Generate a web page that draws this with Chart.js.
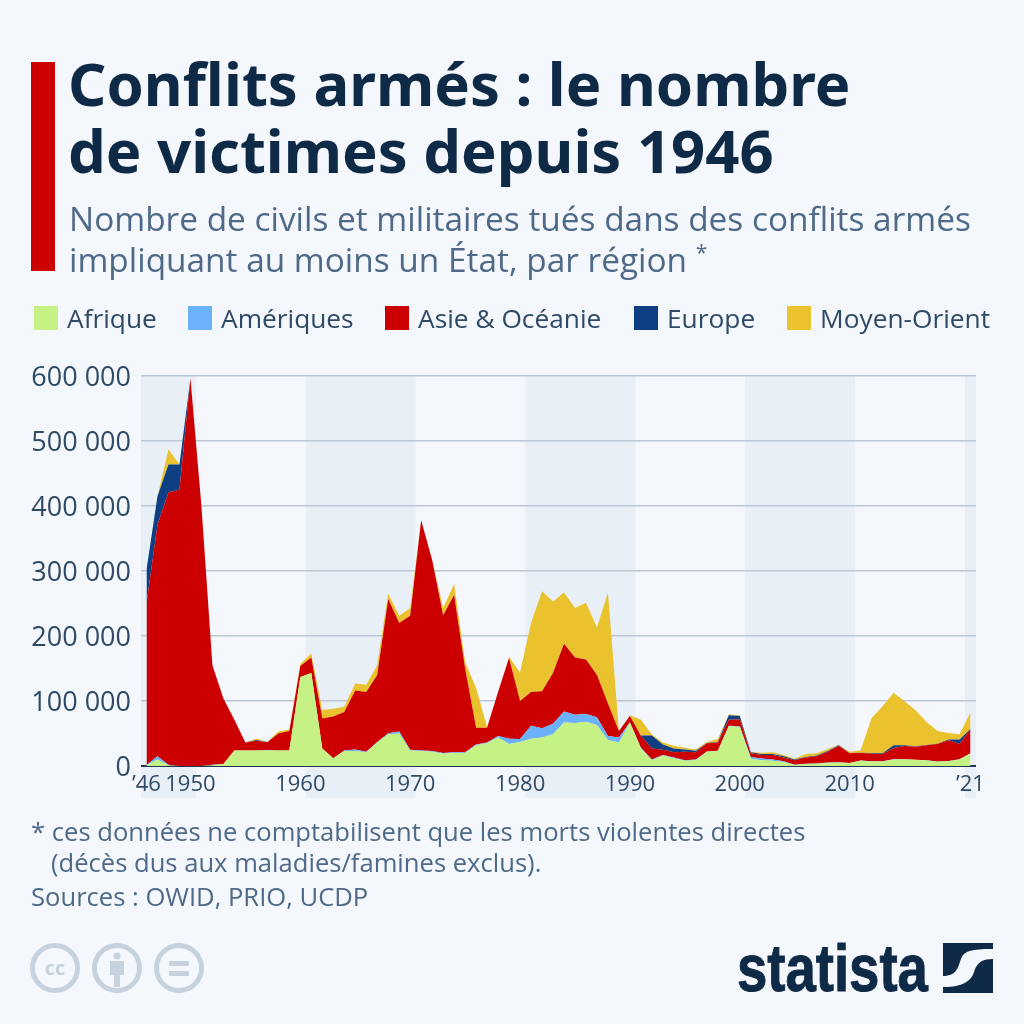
<!DOCTYPE html>
<html lang="fr">
<head>
<meta charset="UTF-8">
<title>Conflits armés</title>
<script src="https://cdn.jsdelivr.net/npm/chart.js"></script>
<style>
    html, body { margin: 0; padding: 0; background: #f4f7fb; }
    body { width: 1024px; height: 1024px; position: relative; overflow: hidden; font-family: "Open Sans", sans-serif; }
    canvas { position: absolute; left: 0; top: 0; }
    .abs { position: absolute; white-space: nowrap; }
    #barre { left: 31px; top: 62px; width: 24px; height: 209px; background: #cc0000; }
    #titre { left: 68px; top: 50px; font: 700 59.8px/67px "Noto Sans", sans-serif; color: #0f2a47; }
    #sous_titre { left: 69px; top: 198px; font: 400 33.4px/41px "Open Sans", sans-serif; color: #4f6a88; }
    #sous_titre sup { font-size: 21px; line-height: 0; }
    #legende { left: 0; top: 300px; height: 36px; font: 400 26.3px/36px "Open Sans", sans-serif; color: #2f4a66; }
    .item { position: absolute; top: 0; white-space: nowrap; }
    .item i { position: absolute; left: 0; top: 6px; width: 24px; height: 24px; }
    .item span { position: absolute; left: 33px; top: 0; }
    #note { left: 31px; top: 816px; font: 400 25.6px/31px "Open Sans", sans-serif; color: #4f6a88; }
    #sources { left: 31px; top: 881px; font: 400 25.6px/31px "Open Sans", sans-serif; color: #4f6a88; }
    #marque { left: 737px; top: 930px; font: 700 66px/76px "Liberation Sans Narrow", "Liberation Sans", sans-serif; color: #0f2a47; -webkit-text-stroke: 1px #0f2a47; transform: scaleX(0.826); transform-origin: left top; }
</style>
</head>
<body>
    <canvas id="grafico" width="1024" height="1024"></canvas>

    <div class="abs" id="barre"></div>
    <div class="abs" id="titre">Conflits armés : le nombre<br>de victimes depuis 1946</div>
    <div class="abs" id="sous_titre">Nombre de civils et militaires tués dans des conflits armés<br>impliquant au moins un État, par région <sup>*</sup></div>
    <div class="abs" id="legende"></div>
    <div class="abs" id="note">* ces données ne comptabilisent que les morts violentes directes<br>&nbsp;&nbsp;&nbsp;(décès dus aux maladies/famines exclus).</div>
    <div class="abs" id="sources">Sources : OWID, PRIO, UCDP</div>

    <svg class="abs" style="left:28px;top:941px" width="180" height="54" viewBox="0 0 180 54">
        <g fill="none" stroke="#c6d3de" stroke-width="5">
            <circle cx="27" cy="27" r="22.5"/>
            <circle cx="89" cy="27" r="22.5"/>
            <circle cx="151" cy="27" r="22.5"/>
        </g>
        <text x="27" y="34" text-anchor="middle" font-family="Open Sans" font-weight="700" font-size="20" fill="#c6d3de">cc</text>
        <circle cx="89" cy="15" r="3.5" fill="#c6d3de"/>
        <path d="M82 20h14v14h-4v12h-6V34h-4z" fill="#c6d3de"/>
        <path d="M141 20h20v5h-20zM141 30h20v5h-20z" fill="#c6d3de"/>
    </svg>

    <div class="abs" id="marque">statista</div>
    <svg class="abs" style="left:943px;top:943px" width="50" height="50" viewBox="0 0 50 50">
        <rect width="50" height="50" fill="#0f2a47"/>
        <path d="M0 33C14 33 15 24 18 16C21 8 28 6 50 6L50 16C38 16 34 20 31 29C28 38 20 44 0 44Z" fill="#f4f7fb"/>
    </svg>

<script>
    // valeurs en milliers de morts, 1946 -> 2021
    var annees = [];
    for (var a = 1946; a <= 2021; a++) annees.push(a);

    var afrique = [
        1, 10, 1, 0,
        0, 0, 1, 3, 24, 24, 24, 24, 24, 24,
        137, 143, 27, 12, 23, 23, 21, 36, 49, 50,
        24, 23, 22, 19, 20, 20, 32, 35, 44, 34,
        37, 42, 44, 49, 67, 66, 68, 63, 40, 36,
        67, 27, 9, 16, 12, 8, 9, 22, 23, 61,
        60, 11, 9, 8, 6, 1.5, 3, 3.5, 5, 5.5,
        4.5, 8, 7, 7, 10, 10, 9.5, 8.5, 6.5, 7.5,
        10, 19.5
    ];
    var ameriques = [
        0.5, 5, 1, 0,
        0, 0, 1, 0, 0, 0, 0, 0.5, 0, 0,
        0, 0, 0, 0, 1, 2.5, 1, 1, 1.5, 3,
        1, 1, 1, 1, 1, 1, 1, 1, 2, 8,
        4.5, 20, 14, 16, 17, 13, 12, 12, 6, 8,
        0.5, 1, 1, 1, 1, 1, 1, 0.5, 0.5, 1,
        1, 3, 2.5, 2, 1.5, 0.5, 0.5, 0.5, 0.3, 0.3,
        0.3, 0.3, 0.3, 0.3, 0.3, 0.3, 0.3, 0.3, 0.3, 0.3,
        0.3, 0.3
    ];
    var asie = [
        248.5, 356, 419, 425,
        596, 400, 153, 101, 47, 12, 15, 12, 26, 30,
        17, 24, 46, 64, 59, 90.5, 92, 103, 206.5, 167,
        206, 354, 294, 212, 242, 129, 26, 23, 68, 124,
        58.5, 52, 57, 78, 104, 88, 84, 65, 50, 10,
        9.5, 18, 17, 8, 8, 13, 11, 12.5, 12.5, 9,
        11, 5.5, 5.5, 7, 5.5, 7, 9.5, 11, 16.7, 25,
        14.7, 12, 11.7, 11, 17.5, 20.5, 20, 23, 27, 32,
        23.5, 37
    ];
    var europe = [
        52, 44, 43, 39,
        0, 0, 0, 0, 0, 0, 1, 0.5, 0, 0,
        0, 0, 0, 0, 0, 0, 0, 0, 0, 0,
        0, 0, 0, 0, 0, 0, 0, 0, 0, 0,
        0, 0, 0, 0, 0, 0, 0, 0, 0, 0,
        0, 1, 20, 8, 6, 3.5, 2.5, 0.5, 1, 7,
        5, 1.5, 1.5, 1.5, 2, 1, 1, 1, 1, 1,
        0.5, 0, 1, 1.5, 4, 1, 0.5, 0.5, 0.5, 1,
        7, 0.5
    ];
    var moyenOrient = [
        0, 0, 23, 0,
        0, 0, 0, 0, 0, 0, 2.5, 0, 3, 2,
        3, 6, 13, 12, 8, 11, 11, 15, 8, 11,
        12, 0, 0, 11, 17, 10, 61, 1, 0, 2,
        44, 106, 154, 110, 79, 76, 87, 73, 171, 0,
        1, 24, 1.5, 3, 4, 2.5, 2, 1.5, 4.5, 1.5,
        1, 1, 2, 2.5, 2, 1, 4.5, 3.5, 3, 1,
        2, 4, 54, 72, 81, 68, 55.5, 35.5, 19.5, 10,
        8, 25
    ];

    var noms = ['Afrique', 'Amériques', 'Asie & Océanie', 'Europe', 'Moyen-Orient'];
    var series = [afrique, ameriques, asie, europe, moyenOrient];
    var couleurs = ['#c6f285', '#6bb1fb', '#cc0000', '#0d3f82', '#e9c22e'];
    var posLegende = [34, 188, 385, 634, 787];

    var ticksX = [1946, 1950, 1960, 1970, 1980, 1990, 2000, 2010, 2021];
    var bandes = [[1945.5, 1950.5], [1960.5, 1970.5], [1980.5, 1990.5], [2000.5, 2010.5], [2020.5, 2021.5]];

    var legende = document.getElementById('legende');
    noms.forEach(function (nom, i) {
        var item = document.createElement('div');
        item.className = 'item';
        item.style.left = posLegende[i] + 'px';
        item.innerHTML = '<i style="background:' + couleurs[i] + '"></i><span>' + nom.replace('&', '&amp;') + '</span>';
        legende.appendChild(item);
    });

    // bandes de fond une décennie sur deux
    var pluginBandes = {
        id: 'bandes',
        beforeDraw: function (chart) {
            var ctx = chart.ctx, x = chart.scales.x, zone = chart.chartArea;
            ctx.save();
            ctx.fillStyle = '#e9eff7';
            bandes.forEach(function (b) {
                var x0 = x.getPixelForValue(b[0]), x1 = x.getPixelForValue(b[1]);
                ctx.fillRect(x0, zone.top, x1 - x0, zone.bottom - zone.top + 32);
            });
            ctx.restore();
        }
    };

    var datasets = noms.map(function (nom, i) {
        return {
            label: nom,
            data: series[i].map(function (v, k) { return { x: annees[k], y: v }; }),
            backgroundColor: couleurs[i],
            borderColor: couleurs[i],
            borderWidth: 0,
            pointRadius: 0,
            tension: 0,
            fill: i === 0 ? 'origin' : '-1'
        };
    });

    new Chart(document.getElementById('grafico'), {
        type: 'line',
        data: { datasets: datasets },
        plugins: [pluginBandes],
        options: {
            responsive: false,
            animation: false,
            layout: { padding: { left: 0, right: 48, top: 376, bottom: 0 } },
            plugins: { legend: { display: false }, tooltip: { enabled: false } },
            scales: {
                x: {
                    type: 'linear',
                    min: 1945.5,
                    max: 2021.5,
                    afterFit: function (s) { s.height = 258; },
                    afterBuildTicks: function (s) { s.ticks = ticksX.map(function (v) { return { value: v }; }); },
                    grid: { display: false },
                    border: { display: false },
                    ticks: {
                        autoSkip: false,
                        maxRotation: 0,
                        padding: -2,
                        color: '#2f4a66',
                        font: { family: 'Open Sans', size: 22 },
                        callback: function (v) {
                            if (v === 1946) return '’46';
                            if (v === 2021) return '’21';
                            return String(v);
                        }
                    }
                },
                y: {
                    stacked: true,
                    min: 0,
                    max: 600,
                    afterFit: function (s) { s.width = 141; },
                    border: { display: false },
                    grid: {
                        drawTicks: false,
                        lineWidth: function (c) { return c.tick.value === 0 ? 2 : 1.5; },
                        color: function (c) { return c.tick.value === 0 ? '#1c3653' : '#bcc7d4'; }
                    },
                    ticks: {
                        stepSize: 100,
                        padding: 10,
                        labelOffset: 2,
                        color: '#2f4a66',
                        font: { family: 'Open Sans', size: 27 },
                        callback: function (v) { return v === 0 ? '0' : v + ' 000'; }
                    }
                }
            }
        }
    });
</script>
</body>
</html>
